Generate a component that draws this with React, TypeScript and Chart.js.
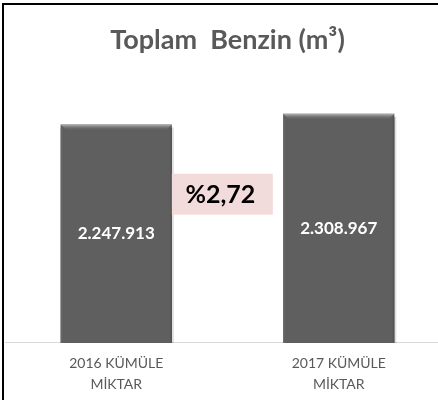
import React, { useEffect, useRef } from "react";
import { Chart, registerables } from "chart.js";

Chart.register(...registerables);

const TITLE = "Toplam  Benzin (m³)";
const CATEGORIES: string[][] = [
  ["2016 KÜMÜLE", "MİKTAR"],
  ["2017 KÜMÜLE", "MİKTAR"],
];
const VALUES: number[] = [2247913, 2308967];
const VALUE_LABELS: string[] = ["2.247.913", "2.308.967"];
const CHANGE_LABEL = "%2,72";
const Y_MIN = 1000000;
const Y_MAX = 2500000;

const FONT = "Lato, 'Open Sans', sans-serif";

const bevelPlugin = {
  id: "bevel",
  afterDatasetsDraw(chart: any) {
    const ctx = chart.ctx as CanvasRenderingContext2D;
    const meta = chart.getDatasetMeta(0);
    const bottom = chart.chartArea.bottom;
    meta.data.forEach((bar: any, i: number) => {
      const left = bar.x - bar.width / 2;
      const right = bar.x + bar.width / 2;
      const top = bar.y;
      const b = 6;
      ctx.save();
      const g = ctx.createLinearGradient(0, top, 0, top + b);
      g.addColorStop(0, "#b5b5b5");
      g.addColorStop(1, "rgba(95,95,95,0)");
      ctx.fillStyle = g;
      ctx.beginPath();
      ctx.moveTo(left, top);
      ctx.lineTo(right, top);
      ctx.lineTo(right - b, top + b);
      ctx.lineTo(left + b, top + b);
      ctx.closePath();
      ctx.fill();
      const gl = ctx.createLinearGradient(left, 0, left + 3, 0);
      gl.addColorStop(0, "#6e6e6e");
      gl.addColorStop(1, "rgba(95,95,95,0)");
      ctx.fillStyle = gl;
      ctx.fillRect(left, top + 3, 3, bottom - top - 3);
      const gr = ctx.createLinearGradient(right - 3, 0, right, 0);
      gr.addColorStop(0, "rgba(95,95,95,0)");
      gr.addColorStop(1, "#4a4a4a");
      ctx.fillStyle = gr;
      ctx.fillRect(right - 3, top + 3, 3, bottom - top - 3);
      ctx.fillStyle = "rgba(0,0,0,0.12)";
      ctx.fillRect(right, top + 3, 2, bottom - top - 3);
      ctx.restore();

      ctx.save();
      ctx.fillStyle = "#ffffff";
      ctx.font = `bold 17px ${FONT}`;
      ctx.textAlign = "center";
      ctx.textBaseline = "middle";
      ctx.fillText(VALUE_LABELS[i], bar.x, (top + bottom) / 2);
      ctx.restore();
    });

    const first = meta.data[0];
    const boxLeft = first.x + first.width / 2;
    const boxW = 101;
    const yScale = chart.scales.y;
    const boxTop = yScale.getPixelForValue(1967000);
    const boxH = 41;
    ctx.save();
    ctx.fillStyle = "#f2dcdb";
    ctx.fillRect(boxLeft, boxTop, boxW, boxH);
    ctx.fillStyle = "#000000";
    ctx.font = `bold 25px ${FONT}`;
    ctx.textAlign = "center";
    ctx.textBaseline = "middle";
    ctx.fillText(CHANGE_LABEL, boxLeft + boxW / 2 - 2, boxTop + boxH / 2 + 1);
    ctx.restore();
  },
};

export default function App() {
  const ref = useRef<HTMLCanvasElement | null>(null);
  useEffect(() => {
    document.body.style.margin = "0";
    const chart = new Chart(ref.current as HTMLCanvasElement, {
      type: "bar",
      data: {
        labels: CATEGORIES,
        datasets: [
          {
            data: VALUES,
            backgroundColor: "#5f5f5f",
            borderWidth: 0,
            categoryPercentage: 1,
            barPercentage: 0.5,
          },
        ],
      },
      options: {
        animation: false,
        responsive: false,
        maintainAspectRatio: false,
        layout: { padding: { left: 5, right: 2, top: 0, bottom: 8 } },
        plugins: {
          legend: { display: false },
          tooltip: { enabled: false },
          title: {
            display: true,
            text: TITLE,
            color: "#595959",
            font: { family: FONT, size: 27, weight: "bold", lineHeight: 1.2 },
            padding: { top: 24, bottom: 24 },
          },
        },
        scales: {
          x: {
            grid: { display: false, drawTicks: false },
            border: { display: true, color: "#d9d9d9", width: 1 },
            ticks: {
              color: "#595959",
              font: { family: FONT, size: 14, lineHeight: 1.43 },
              padding: 11,
              maxRotation: 0,
            },
          },
          y: {
            display: false,
            min: Y_MIN,
            max: Y_MAX,
          },
        },
      },
      plugins: [bevelPlugin],
    });
    return () => chart.destroy();
  }, []);

  return (
    <div
      style={{
        position: "fixed",
        left: 0,
        top: 0,
        width: 438,
        height: 400,
        overflow: "hidden",
        background: "#ffffff",
      }}
    >
      <canvas ref={ref} width={452} height={413} style={{ display: "block" }} />
      <div
        style={{
          position: "absolute",
          left: 2,
          top: 3,
          width: 440,
          height: 400,
          borderLeft: "2px solid #000",
          borderTop: "2px solid #000",
          pointerEvents: "none",
        }}
      />
    </div>
  );
}
